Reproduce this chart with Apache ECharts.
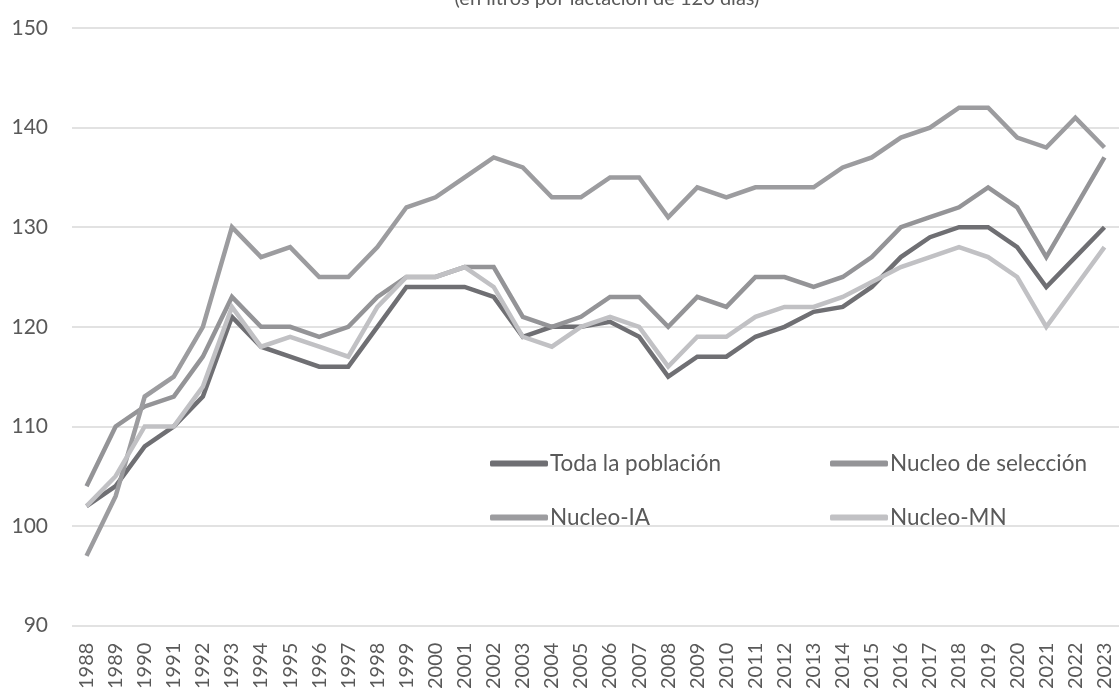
<!DOCTYPE html>
<html>
<head>
<meta charset="utf-8">
<script src="https://cdn.jsdelivr.net/npm/echarts@6/dist/echarts.min.js"></script>
<style>
  html, body { margin: 0; padding: 0; background: #fff; }
  #chart { width: 1119px; height: 692px; }
</style>
</head>
<body>
<div id="chart"></div>
<script>
var years = ['1988', '1989', '1990', '1991', '1992', '1993', '1994', '1995', '1996', '1997',
    '1998', '1999', '2000', '2001', '2002', '2003', '2004', '2005', '2006', '2007',
    '2008', '2009', '2010', '2011', '2012', '2013', '2014', '2015', '2016', '2017',
    '2018', '2019', '2020', '2021', '2022', '2023'];

var todaPoblacion = [102, 104, 108, 110, 113, 121, 118, 117, 116, 116,
    120, 124, 124, 124, 123, 119, 120, 120, 120.5, 119,
    115, 117, 117, 119, 120, 121.5, 122, 124, 127, 129,
    130, 130, 128, 124, 127, 130];

var nucleoSeleccion = [104, 110, 112, 113, 117, 123, 120, 120, 119, 120,
    123, 125, 125, 126, 126, 121, 120, 121, 123, 123,
    120, 123, 122, 125, 125, 124, 125, 127, 130, 131,
    132, 134, 132, 127, 132, 137];

var nucleoIA = [97, 103, 113, 115, 120, 130, 127, 128, 125, 125,
    128, 132, 133, 135, 137, 136, 133, 133, 135, 135,
    131, 134, 133, 134, 134, 134, 136, 137, 139, 140,
    142, 142, 139, 138, 141, 138];

var nucleoMN = [102, 105, 110, 110, 114, 122, 118, 119, 118, 117,
    122, 125, 125, 126, 124, 119, 118, 120, 121, 120,
    116, 119, 119, 121, 122, 122, 123, 124.5, 126, 127,
    128, 127, 125, 120, 124, 128];

var yTicks = { min: 90, max: 150, step: 10 };

var labelColor = '#595959';
var fontFam = 'Lato, "Noto Sans", sans-serif';

function mkLine(name, data, color) {
    return {
        name: name,
        type: 'line',
        data: data,
        symbol: 'none',
        lineStyle: { color: color, width: 4.5, join: 'miter' },
        itemStyle: { color: color },
        animation: false
    };
}

function mkLegend(left, names) {
    return {
        orient: 'vertical',
        left: left,
        top: 452,
        padding: 0,
        itemWidth: 58,
        itemHeight: 6,
        itemGap: 31,
        icon: 'roundRect',
        data: names,
        textStyle: { fontFamily: fontFam, fontSize: 22.5, color: labelColor, padding: [0, 0, 0, -3] }
    };
}

var chart = echarts.init(document.getElementById('chart'));
chart.setOption({
    backgroundColor: '#fff',
    title: {
        text: '(en litros por lactación de 120 días)',
        left: 602,
        textAlign: 'center',
        top: -16,
        textStyle: { fontFamily: fontFam, fontSize: 20, fontWeight: 'normal', color: labelColor }
    },
    // legend in two columns, like the original
    legend: [
        mkLegend(490, ['Toda la población', 'Nucleo-IA']),
        mkLegend(830, ['Nucleo de selección', 'Nucleo-MN'])
    ],
    grid: { left: 72, right: -14, top: 28, bottom: 64 },
    xAxis: {
        type: 'category',
        data: years,
        boundaryGap: true,
        axisLine: { show: false },
        axisTick: { show: false },
        axisLabel: {
            rotate: 90,
            interval: 0,
            margin: 17,
            fontFamily: fontFam,
            fontSize: 20,
            color: labelColor
        }
    },
    yAxis: {
        type: 'value',
        min: yTicks.min,
        max: yTicks.max,
        interval: yTicks.step,
        axisLine: { show: false },
        axisTick: { show: false },
        axisLabel: { margin: 24, fontFamily: fontFam, fontSize: 21, color: labelColor },
        splitLine: { lineStyle: { color: '#d9d9d9', width: 1.5 } }
    },
    series: [
        mkLine('Toda la población', todaPoblacion, '#6f6f73'),
        mkLine('Nucleo de selección', nucleoSeleccion, '#949497'),
        mkLine('Nucleo-IA', nucleoIA, '#9c9c9f'),
        mkLine('Nucleo-MN', nucleoMN, '#c1c1c4')
    ]
});
</script>
</body>
</html>
